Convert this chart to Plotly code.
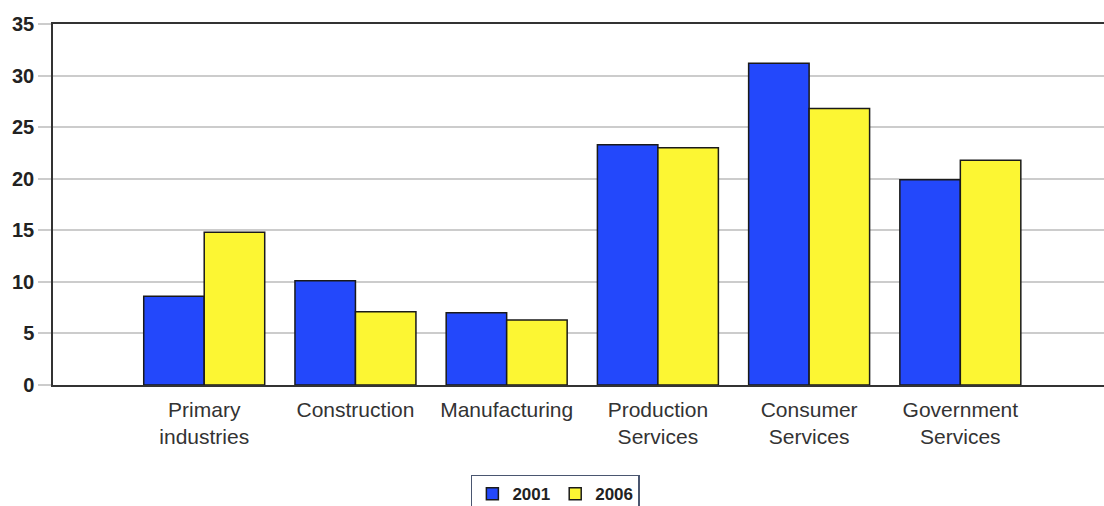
import plotly.graph_objects as go

categories = ["Primary<br>industries", "Construction", "Manufacturing",
              "Production<br>Services", "Consumer<br>Services", "Government<br>Services"]
values_2001 = [8.6, 10.1, 7.0, 23.3, 31.2, 19.9]
values_2006 = [14.8, 7.1, 6.3, 23.0, 26.8, 21.8]
y_ticks = [0, 5, 10, 15, 20, 25, 30, 35]

bar_line = dict(color="#1a1a1a", width=1.5)

fig = go.Figure()
fig.add_trace(go.Bar(name="2001", x=categories, y=values_2001,
                     marker=dict(color="#2348FB", line=bar_line)))
fig.add_trace(go.Bar(name="2006", x=categories, y=values_2006,
                     marker=dict(color="#FCF633", line=bar_line)))

fig.update_layout(
    width=1104, height=506,
    margin=dict(l=53, r=0, t=24, b=121, autoexpand=False),
    paper_bgcolor="white", plot_bgcolor="white",
    barmode="group", bargap=0.2, bargroupgap=0,
    font=dict(family="Liberation Sans, Arial, sans-serif", color="#333333"),
    showlegend=True,
    legend=dict(
        orientation="h", x=0.478, xanchor="center",
        yref="container", y=0.062, yanchor="top",
        bordercolor="#4a5670", borderwidth=1.5, bgcolor="white",
        font=dict(size=17, color="#222222", weight="bold"),
        itemwidth=30, tracegroupgap=0,
    ),
    xaxis=dict(
        type="category", range=[-1, 5.95],
        showline=True, linecolor="#333333", linewidth=1.5, mirror=True,
        showgrid=False, ticks="", ticklabelstandoff=5,
        tickfont=dict(size=21, color="#333333"),
    ),
    yaxis=dict(
        range=[0, 35], tickvals=y_ticks,
        showline=True, linecolor="#333333", linewidth=1.5,
        showgrid=True, gridcolor="#cccccc", gridwidth=1.5,
        zeroline=False,
        ticks="outside", ticklen=13, tickcolor="#cccccc", tickwidth=1.5,
        tickfont=dict(size=20, color="#222222", weight="bold"),
    ),
)

fig.write_html("out.html")
